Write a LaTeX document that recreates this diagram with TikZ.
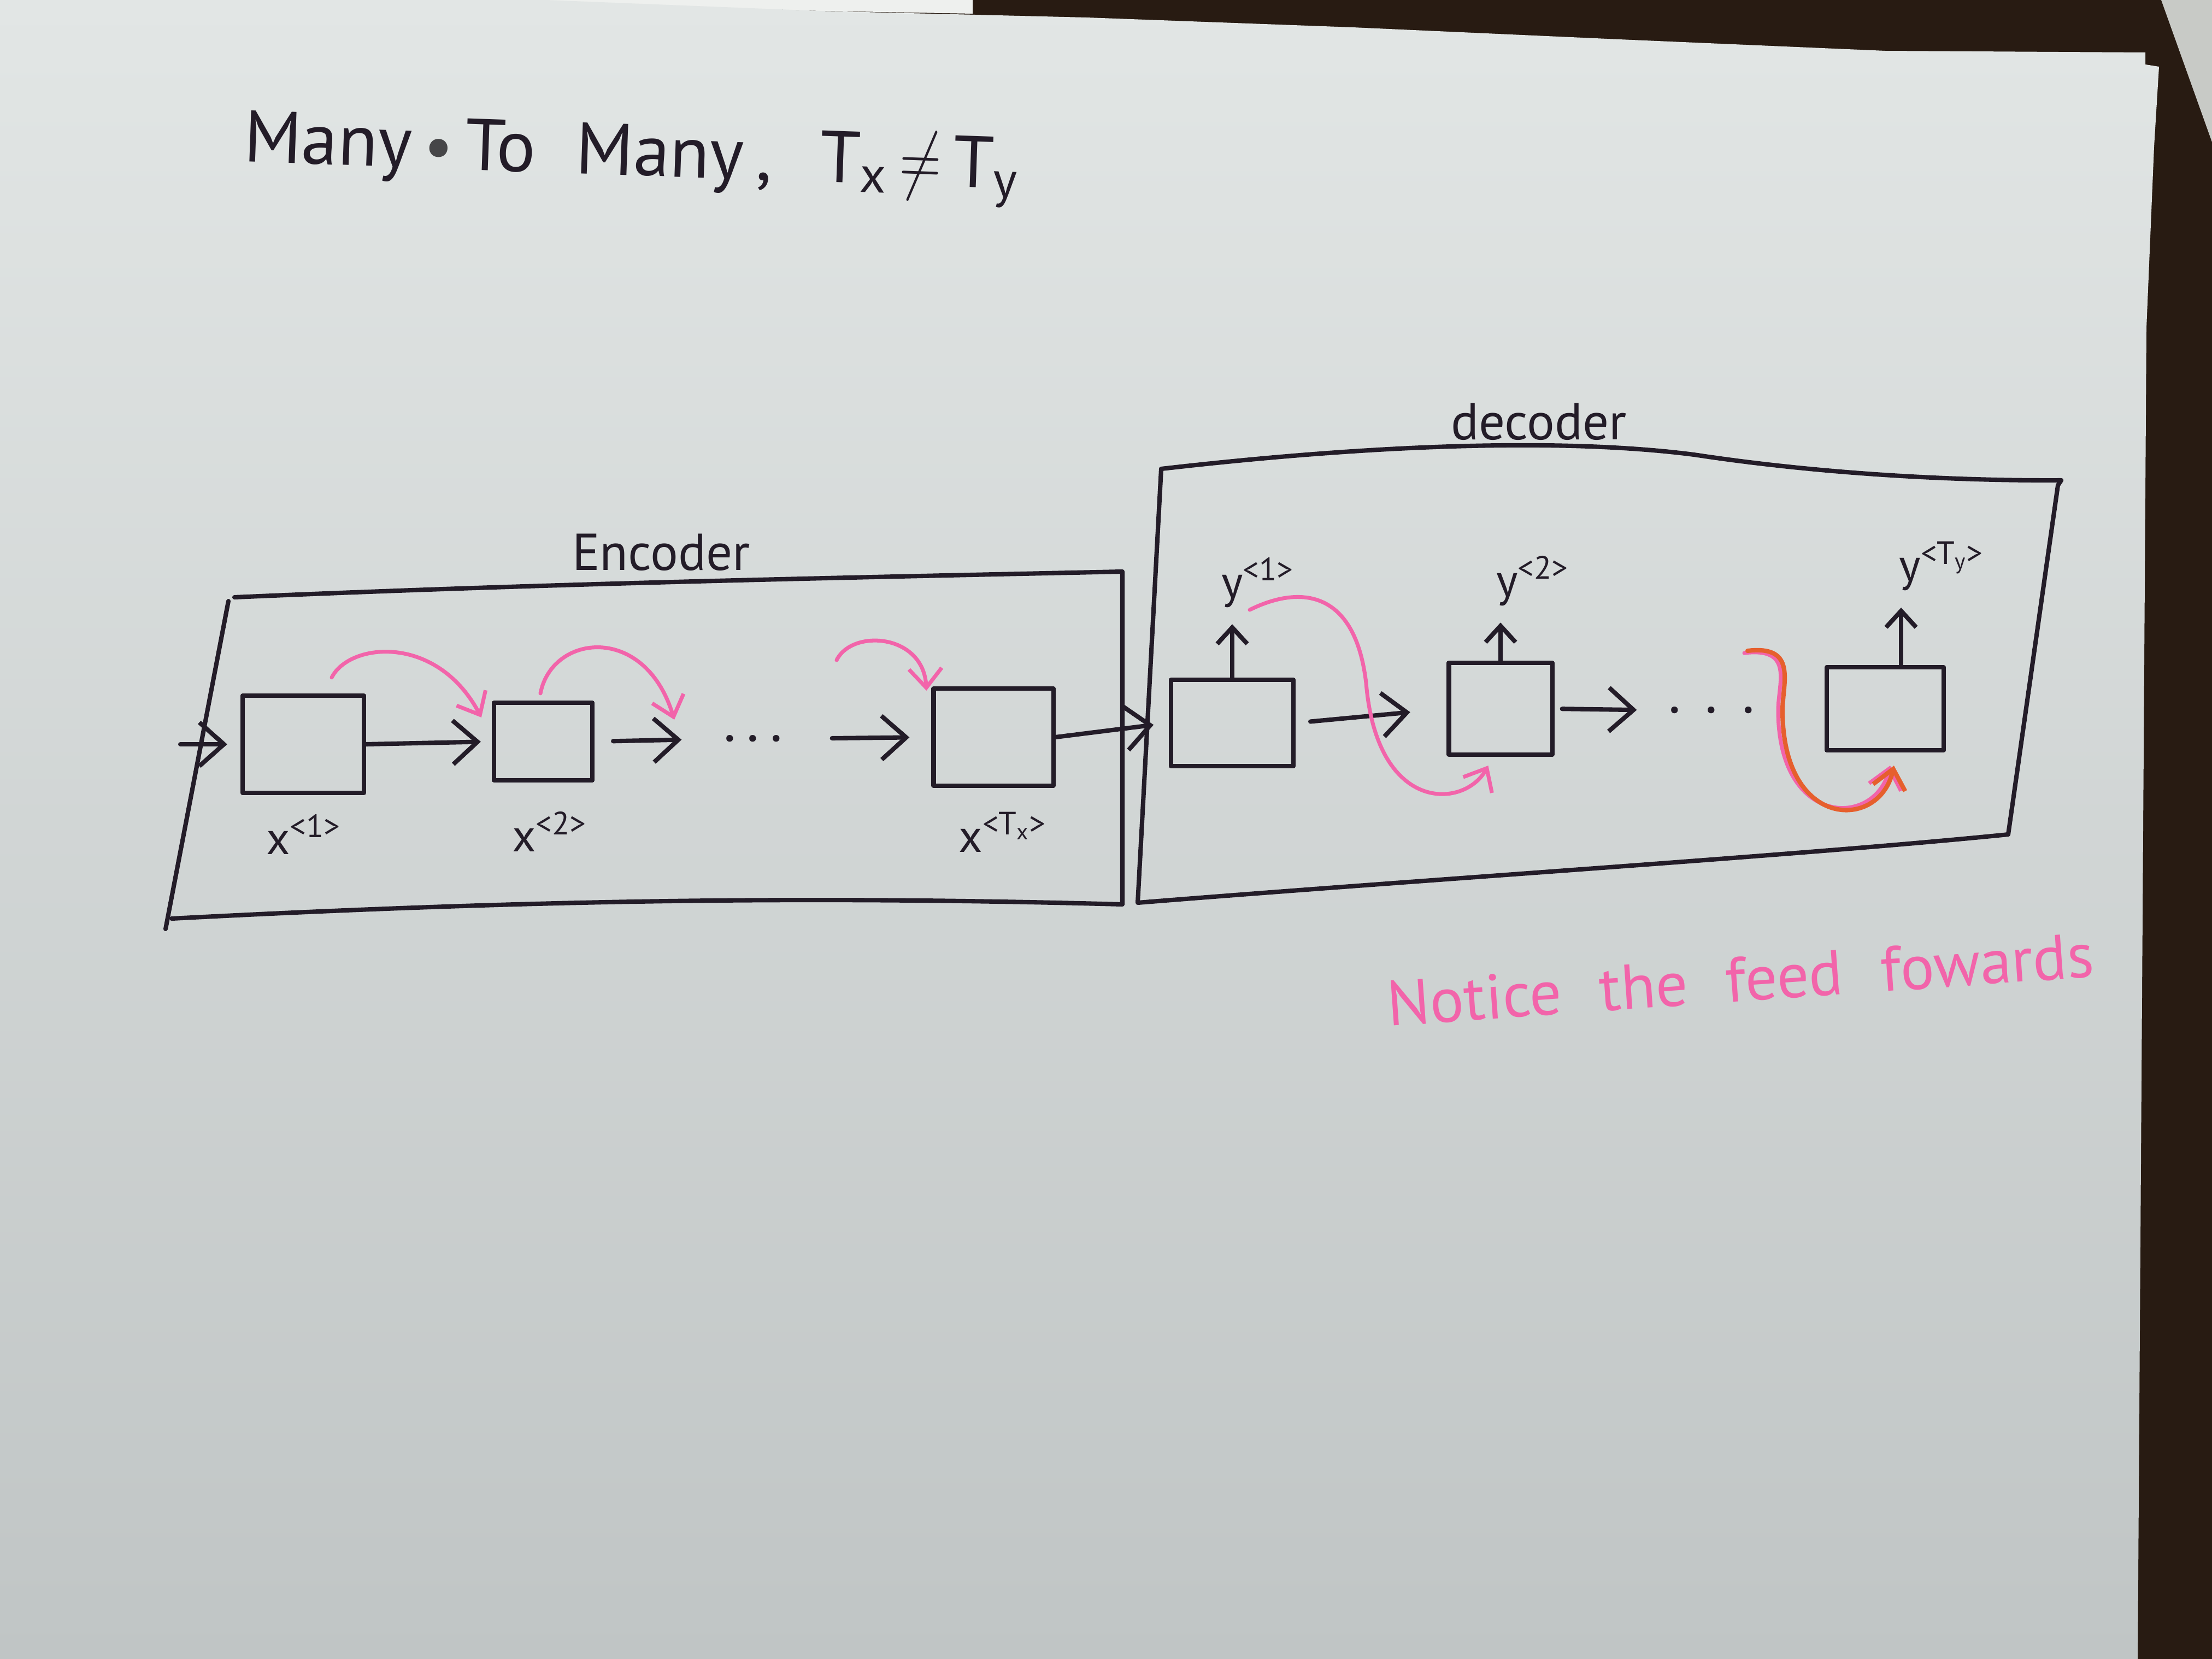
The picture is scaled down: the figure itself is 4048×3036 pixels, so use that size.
\documentclass[tikz,border=0pt]{standalone}
\usepackage{fontspec}
\setmainfont{PT Sans}
\usetikzlibrary{arrows.meta,calc}
\definecolor{ink}{RGB}{35,28,40}
\definecolor{pinkink}{RGB}{242,100,170}
\definecolor{orangeink}{RGB}{230,95,45}
\definecolor{papertop}{RGB}{226,230,229}
\definecolor{paperbot}{RGB}{192,197,197}
\definecolor{wood}{RGB}{40,27,18}
\definecolor{glare}{RGB}{238,240,238}
\definecolor{sheet}{RGB}{200,202,198}
\definecolor{blot}{RGB}{70,70,72}
\begin{document}
\begin{tikzpicture}[x=0.01cm,y=-0.01cm,line cap=round,line join=round,
  pen/.style={draw=ink,line width=2.3pt},
  cell/.style={draw=ink,line width=2.3pt,rectangle,inner sep=0pt},
  arr/.style={draw=ink,line width=2.3pt,-{Straight Barb[length=0.45cm,width=0.8cm]}},
  uparr/.style={draw=ink,line width=2.3pt,-{Straight Barb[length=0.3cm,width=0.55cm]}},
  pinkarr/.style={draw=pinkink,line width=2pt,-{Straight Barb[length=0.35cm,width=0.6cm]}},
  orangearr/.style={draw=orangeink,line width=2.3pt,-{Straight Barb[length=0.35cm,width=0.6cm]}},
  lbl/.style={text=ink,inner sep=0pt,font=\fontsize{24}{28}\selectfont},
  boxtitle/.style={text=ink,inner sep=0pt,font=\fontsize{27}{32}\selectfont},
  dotsn/.style={text=ink,inner sep=0pt,font=\fontsize{30}{30}\selectfont}]
\useasboundingbox (0,0) rectangle (4048,3036);
% background: table, glare, paper
\fill[wood] (0,0) rectangle (4048,3036);
\fill[glare] (900,0) -- (1780,0) -- (1780,25) -- (1500,20) -- cycle;
\fill[sheet] (3955,0) -- (4048,0) -- (4048,260) -- cycle;
\shade[top color=papertop,bottom color=paperbot]
  (0,0) -- (1000,0) -- (1500,20) -- (1988,32) -- (2475,50) -- (2963,72)
  -- (3450,93) -- (3926,96) -- (3926,118) -- (3951,122) -- (3942,268)
  -- (3928,600) -- (3912,3036) -- (0,3036) -- cycle;

% title
\node[text=ink,inner sep=0pt,font=\fontsize{38}{46}\selectfont,rotate=-2] (title) at (1155,290)
  {Many\,{\color{blot}\fontsize{34}{34}\selectfont\textbullet}\,To\hspace{0.55em}Many\,,\hspace{0.65em}T\textsubscript{x}\,\scalebox{1.2}[1.6]{$\neq$}\,T\textsubscript{y}};

% encoder outline
\draw[pen] (429,1093) .. controls (1000,1068) and (1500,1058) .. (2054,1046)
  -- (2054,1655) .. controls (1500,1640) and (1000,1645) .. (314,1681);
\draw[pen] (418,1100) -- (303,1700);
\node[boxtitle] (enc) at (1210,1011) {Encoder};

% decoder outline
\draw[pen] (2125,858) .. controls (2500,815) and (2850,800) .. (3100,832)
  .. controls (3350,870) and (3600,880) .. (3772,879) -- (3766,888)
  -- (3675,1527) .. controls (3300,1565) and (2600,1610) .. (2082,1652) -- cycle;
\node[boxtitle] (dec) at (2816,772) {decoder};

% encoder cells
\node[cell,minimum width=2.22cm,minimum height=1.78cm] (e1) at (555,1362) {};
\node[cell,minimum width=1.80cm,minimum height=1.42cm] (e2) at (994,1357) {};
\node[cell,minimum width=2.19cm,minimum height=1.78cm] (e3) at (1818,1349) {};
\node[dotsn] (edots) at (1378,1352) {.\hspace{0.2cm}.\hspace{0.2cm}.};

% decoder cells
\node[cell,minimum width=2.24cm,minimum height=1.58cm] (d1) at (2255,1323) {};
\node[cell,minimum width=1.89cm,minimum height=1.68cm] (d2) at (2746,1297) {};
\node[cell,minimum width=2.14cm,minimum height=1.52cm] (d3) at (3450,1297) {};
\node[dotsn] (ddots) at (3132,1300) {.\hspace{0.45cm}.\hspace{0.45cm}.};

% labels
\node[lbl] (lx1) at (556,1527) {x\textsuperscript{<1>}};
\node[lbl] (lx2) at (1006,1522) {x\textsuperscript{<2>}};
\node[lbl] (lx3) at (1835,1523) {x\textsuperscript{<T\textsubscript{x}>}};
\node[lbl] (ly1) at (2302,1066) {y\textsuperscript{<1>}};
\node[lbl] (ly2) at (2805,1063) {y\textsuperscript{<2>}};
\node[lbl] (ly3) at (3553,1036) {y\textsuperscript{<T\textsubscript{y}>}};

% black connectors
\coordinate (inS) at (330,1362);
\draw[arr,shorten >=0.24cm] (inS) -- (e1.west);
\draw[arr,shorten >=0.2cm] (e1.east) -- (e2.west);
\draw[arr,shorten <=0.34cm,shorten >=0.76cm] (e2.east) -- (edots.west);
\draw[arr,shorten <=0.9cm,shorten >=0.4cm] (edots.east) -- (e3.west);
\draw[arr,shorten >=0.28cm] (e3.east) -- (d1.west);
\draw[arr,shorten <=0.27cm,shorten >=0.67cm] (d1.east) -- (d2.west);
\draw[arr,shorten <=0.14cm,shorten >=0.57cm] (d2.east) -- (ddots.west);
\draw[uparr,shorten >=0.3cm] (d1.north) -- (d1.north |- ly1.south);
\draw[uparr,shorten >=0.3cm] (d2.north) -- (d2.north |- ly2.south);
\draw[uparr,shorten >=0.3cm] ([xshift=0.29cm]d3.north) -- ([xshift=0.29cm]d3.north |- ly3.south);

% pink recurrent connectors (encoder)
\coordinate (p2end) at (1234,1317);
\coordinate (p3start) at (1531,1208);
\draw[pinkarr] ($(e1.north)+(52,-29)$) .. controls (640,1175) and (800,1160) .. ($(e2.north west)+(-19,31)$);
\draw[pinkarr] ($(e2.north)+(-5,-13)$) .. controls (1010,1160) and (1180,1140) .. (p2end);
\draw[pinkarr] (p3start) .. controls (1560,1150) and (1690,1160) .. ($(e3.north west)+(-9,8)$);

% pink feed-forward (decoder)
\draw[pinkarr] ($(ly1)+(-15,50)$) .. controls (2380,1070) and (2480,1080) .. (2500,1250)
  .. controls (2520,1490) and (2680,1480) .. ($(d2.south west)+(76,16)$);
\coordinate (ostart) at (3198,1191);
\draw[pinkarr] ($(ostart)+(-6,4)$) .. controls (3284,1184) and (3254,1250) .. (3254,1300)
  .. controls (3254,1515) and (3432,1515) .. ($(d3.south west)+(120,24)$);
\draw[orangearr] (ostart) .. controls (3290,1180) and (3262,1250) .. (3262,1300)
  .. controls (3262,1520) and (3440,1520) .. ($(d3.south west)+(127,24)$);

% note
\node[text=pinkink,inner sep=0pt,font=\fontsize{33}{39}\selectfont,rotate=4] (note) at (3185,1792)
  {Notice\hspace{0.6em}the\hspace{0.6em}feed\hspace{0.6em}fowards};
\end{tikzpicture}
\end{document}
